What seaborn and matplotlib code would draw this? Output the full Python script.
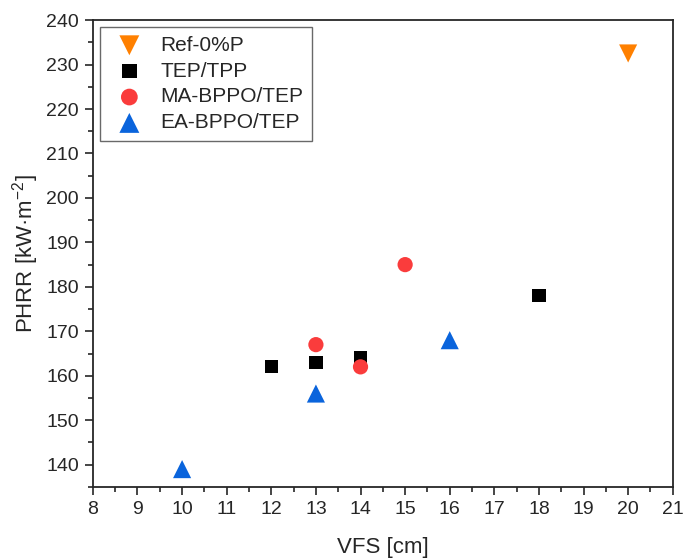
import matplotlib.pyplot as plt
import seaborn as sns
import pandas as pd
from matplotlib.ticker import MultipleLocator

# data
ref_x = [20]
ref_y = [232.5]
tep_x = [12, 13, 14, 18]
tep_y = [162, 163, 164, 178]
ma_x = [13, 14, 15]
ma_y = [167, 162, 185]
ea_x = [10, 13, 16]
ea_y = [139, 156, 168]

series = [
    ("Ref-0%P", ref_x, ref_y, "v", "#ff8000", 170),
    ("TEP/TPP", tep_x, tep_y, "s", "#000000", 90),
    ("MA-BPPO/TEP", ma_x, ma_y, "o", "#fa3c3c", 120),
    ("EA-BPPO/TEP", ea_x, ea_y, "^", "#0a64dc", 170),
]

sns.set_style("ticks")
plt.rcParams["font.family"] = ["Liberation Sans", "DejaVu Sans"]
plt.rcParams["mathtext.fontset"] = "custom"
plt.rcParams["mathtext.rm"] = "Liberation Sans"
plt.rcParams["mathtext.it"] = "Liberation Sans"

fig = plt.figure(figsize=(6.83, 5.59), dpi=100)
ax = fig.add_axes([0.136, 0.129, 0.849, 0.835])

for name, xs, ys, mk, col, size in series:
    df = pd.DataFrame({"VFS": xs, "PHRR": ys})
    sns.scatterplot(data=df, x="VFS", y="PHRR", marker=mk, color=col, s=size,
                    edgecolor="none", label=name, ax=ax)

ax.set_xlim(8, 21)
ax.set_ylim(135, 240)
ax.xaxis.set_major_locator(MultipleLocator(1))
ax.xaxis.set_minor_locator(MultipleLocator(0.5))
ax.yaxis.set_major_locator(MultipleLocator(10))
ax.yaxis.set_minor_locator(MultipleLocator(5))
ax.tick_params(which="major", direction="out", length=6, width=1.2,
               labelsize=14, pad=4)
ax.tick_params(which="minor", direction="out", length=3.5, width=1.2)
for sp in ax.spines.values():
    sp.set_linewidth(1.3)
    sp.set_visible(True)

ax.set_xlabel("VFS [cm]", fontsize=16, labelpad=14)
ax.set_ylabel("PHRR [kW·m$^{-2}$]", fontsize=16, labelpad=4)

leg = ax.legend(loc="upper left", fontsize=15, frameon=True, fancybox=False,
                edgecolor="#444444", borderpad=0.4, handletextpad=0.5,
                labelspacing=0.33, borderaxespad=0.35, markerscale=1.1)
leg.get_frame().set_linewidth(1.0)

fig.savefig("out.png", dpi=100)
